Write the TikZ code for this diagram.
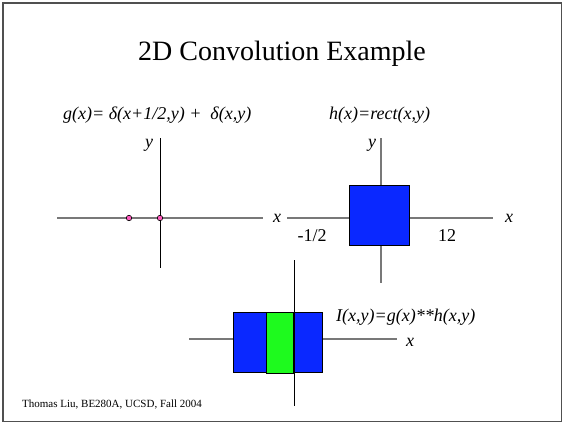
\documentclass[tikz,border=0pt]{standalone}
\usepackage{fontspec}
\setmainfont{Liberation Serif}
\usetikzlibrary{positioning}

\definecolor{rectblue}{RGB}{10,40,255}
\definecolor{rectgreen}{RGB}{30,250,30}
\definecolor{deltapink}{RGB}{255,90,190}
\definecolor{axisgray}{RGB}{120,120,120}
\definecolor{framegray}{RGB}{80,80,80}

\tikzset{
  ax/.style={line width=1.3pt, axisgray},
  axdark/.style={line width=1pt, black},
  lbl/.style={font=\fontsize{18}{20}\selectfont\itshape, inner sep=0pt},
  num/.style={font=\fontsize{18}{20}\selectfont, inner sep=0pt},
  deltadot/.style={circle, draw=black, fill=deltapink, line width=0.6pt, inner sep=0pt, minimum size=5.5pt},
  boxfill/.style={draw=black, line width=0.7pt},
}

\begin{document}
\begin{tikzpicture}[x=1pt, y=-1pt]
  \useasboundingbox (0,0) rectangle (564,424);
  \draw[framegray, line width=1.5pt] (3,3) rectangle (561.5,421.5);

  \node[inner sep=0pt, font=\fontsize{28}{32}\selectfont] (title) at (282,54) {2D Convolution Example};
  \node[lbl, anchor=west] (gdef) at (63,115) {g(x)= δ(x+1/2,y) +\ \ δ(x,y)};
  \node[lbl, anchor=west] (hdef) at (329,115) {h(x)=rect(x,y)};

  % g(x,y): two deltas
  \draw[ax] (57,218) -- (263,218);
  \draw[axdark] (160,138) -- (160,268);
  \node[deltadot] (dshift) at (129,218) {};
  \node[deltadot] (dzero) at (160,218) {};
  \node[lbl] (gy) at (149,145) {y};
  \node[lbl] (gx) at (277,218) {x};

  % h(x,y): rect
  \draw[ax] (287,218) -- (493,218);
  \draw[ax] (381,138) -- (381,283);
  \filldraw[boxfill, fill=rectblue] (349,185) rectangle (409,245);
  \node[lbl] (hy) at (372,145) {y};
  \node[lbl] (hx) at (509,218) {x};
  \node[num] (hleft) at (312,236) {-1/2};
  \node[num] (hright) at (447,236) {12};

  % I(x,y): result
  \draw[ax] (189,339) -- (397,339);
  \filldraw[boxfill, fill=rectblue] (233,312) rectangle (322,372);
  \filldraw[boxfill, fill=rectgreen] (266,312) rectangle (293,373);
  \draw[axdark] (294,260) -- (294,406);
  \node[lbl, anchor=west] (idef) at (336,317) {I(x,y)=g(x)**h(x,y)};
  \node[lbl] (ix) at (410,342) {x};

  \node[inner sep=0pt, anchor=west, font=\fontsize{11}{13}\selectfont] (credit) at (22,405) {Thomas Liu, BE280A, UCSD, Fall 2004};
\end{tikzpicture}
\end{document}
